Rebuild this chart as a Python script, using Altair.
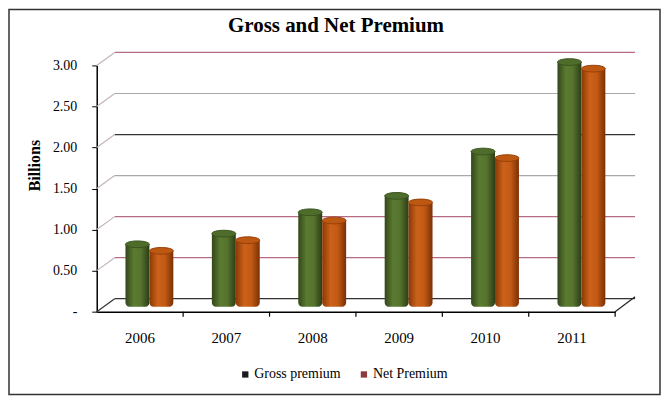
import altair as alt
import pandas as pd

years = ["2006", "2007", "2008", "2009", "2010", "2011"]
gross = [0.76, 0.89, 1.15, 1.35, 1.89, 2.98]
net = [0.68, 0.81, 1.05, 1.27, 1.81, 2.90]
ticks = [0, 0.5, 1.0, 1.5, 2.0, 2.5, 3.0]
series = ["Gross premium", "Net Premium"]

W, H = 520, 247
PL, PT, PR, PB = 89, 57, 46, 84
DX, DY = 18, -13
BACK_R = W + 20
FONT = "Liberation Serif"
BAND = W / len(years)

df = pd.DataFrame({"year": years, "gross": gross, "net": net})
grid = pd.DataFrame({"v": ticks})
frame = pd.DataFrame({"a": [0]})

yscale = alt.Scale(domain=[0, 3], nice=False, zero=True)
xenc = alt.X(
    "year:N", sort=years,
    scale=alt.Scale(paddingInner=0, paddingOuter=0),
    axis=alt.Axis(title=None, labelAngle=0, ticks=False, domainColor="#000000",
                  domainWidth=1.5, labelPadding=19, labelFont=FONT, labelFontSize=15,
                  labelColor="#000000"),
)
yaxis = alt.Axis(
    title="Billions", titleFont=FONT, titleFontSize=16, titleFontWeight="bold",
    titleColor="#000000", titlePadding=10, titleY=100, values=ticks,
    labelExpr="datum.value == 0 ? '-' : format(datum.value, '.2f')",
    labelFont=FONT, labelFontSize=14, labelColor="#000000", labelPadding=15,
    tickColor="#000000", tickSize=5, domainColor="#000000", domainWidth=1.5,
    grid=False,
)


def Y(field):
    return alt.Y(field, scale=yscale, axis=yaxis)


border = alt.Chart(frame).mark_rect(fillOpacity=0, stroke="#333333", strokeWidth=1.5).encode(
    x=alt.value(-PL + 1), x2=alt.value(W + PR - 1),
    y=alt.value(-PT + 1), y2=alt.value(H + PB - 1),
)

gcolor = (alt.when((alt.datum.v == 0) | (alt.datum.v == 2)).then(alt.value("#333333"))
          .when((alt.datum.v == 1.5) | (alt.datum.v == 2.5)).then(alt.value("#a9a9a9"))
          .otherwise(alt.value("#b56b82")))
dcolor = alt.when(alt.datum.v == 0).then(alt.value("#333333")).otherwise(alt.value("#c4b4bb"))

gridlines = alt.Chart(grid).mark_rule(yOffset=DY, y2Offset=DY, strokeWidth=1.2).encode(
    y=Y("v:Q"), y2="v:Q",
    x=alt.value(DX), x2=alt.value(BACK_R), color=gcolor,
)
diags = alt.Chart(grid).mark_rule(y2Offset=DY, strokeWidth=1.2).encode(
    y=Y("v:Q"), y2="v:Q",
    x=alt.value(0), x2=alt.value(DX), color=dcolor,
)
floor_right = alt.Chart(grid).transform_filter(alt.datum.v == 0).mark_rule(
    y2Offset=DY - 2, strokeWidth=1.2, color="#222222").encode(
    y=Y("v:Q"), y2="v:Q",
    x=alt.value(W), x2=alt.value(BACK_R),
)
xticks = alt.Chart(df).mark_rule(xOffset=BAND / 2, y2Offset=5, strokeWidth=1.2,
                                 color="#000000").encode(
    x=xenc, y=alt.Y(datum=0, scale=yscale, axis=yaxis), y2=alt.datum(0),
)


def grad(stops):
    return alt.LinearGradient(
        gradient="linear", x1=0, x2=1, y1=0, y2=0,
        stops=[alt.GradientStop(offset=o, color=c) for o, c in stops],
    )


green = grad([(0, "#33461b"), (0.35, "#5b7b31"), (0.65, "#55732d"), (1, "#2c3c16")])
orange = grad([(0, "#8a3806"), (0.35, "#cc621a"), (0.65, "#c25a15"), (1, "#7a3005")])
ellipse = "M-1,0A1,0.28,0,1,1,1,0A1,0.28,0,1,1,-1,0Z"
GX, NX = -2.5, 21.5

gross_bar = alt.Chart(df).mark_bar(
    size=24, xOffset=GX, yOffset=-5, y2Offset=-5, color=green,
    cornerRadiusBottomLeft=4, cornerRadiusBottomRight=4).encode(
    x=xenc, y=Y("gross:Q"), y2=alt.datum(0),
)
net_bar = alt.Chart(df).mark_bar(
    size=24, xOffset=NX, yOffset=-5, y2Offset=-5, color=orange,
    cornerRadiusBottomLeft=4, cornerRadiusBottomRight=4).encode(
    x=xenc, y=Y("net:Q"), y2=alt.datum(0),
)
gross_cap = alt.Chart(df).mark_point(
    shape=ellipse, filled=True, size=576, xOffset=GX, yOffset=-5, opacity=1,
    fill="#4f6d2a", stroke="#3a521f", strokeWidth=1).encode(
    x=xenc, y=Y("gross:Q"),
)
net_cap = alt.Chart(df).mark_point(
    shape=ellipse, filled=True, size=576, xOffset=NX, yOffset=-5, opacity=1,
    fill="#bd5812", stroke="#973f09", strokeWidth=1).encode(
    x=xenc, y=Y("net:Q"),
)

legend_layer = alt.Chart(df).transform_fold(["gross", "net"], as_=["key", "value"]).transform_calculate(
    series="datum.key == 'gross' ? 'Gross premium' : 'Net Premium'"
).mark_square(opacity=0, size=36).encode(
    x=xenc, y=Y("value:Q"),
    color=alt.Color("series:N", scale=alt.Scale(domain=series, range=["#1a1a1a", "#8c3a3a"]),
                    legend=alt.Legend(title=None, orient="none", legendX=142, legendY=303,
                                      direction="horizontal", symbolType="square",
                                      symbolSize=40, symbolOpacity=1, symbolStrokeWidth=0,
                                      labelFont=FONT, labelFontSize=14, labelColor="#000000",
                                      columnPadding=16, labelOffset=2)),
)

chart = alt.layer(
    border, gridlines, diags, floor_right, xticks,
    gross_bar, net_bar, gross_cap, net_cap, legend_layer
).properties(
    width=W, height=H,
    title=alt.TitleParams("Gross and Net Premium", font=FONT, fontSize=21, fontWeight="bold",
                          color="#000000", anchor="middle", offset=-27, dx=-20),
    autosize=alt.AutoSizeParams(type="none"),
    padding={"left": PL, "top": PT, "right": PR, "bottom": PB},
    background="#ffffff",
).configure_view(strokeWidth=0)

chart.save("out.html", embed_options={"renderer": "svg", "actions": False})
